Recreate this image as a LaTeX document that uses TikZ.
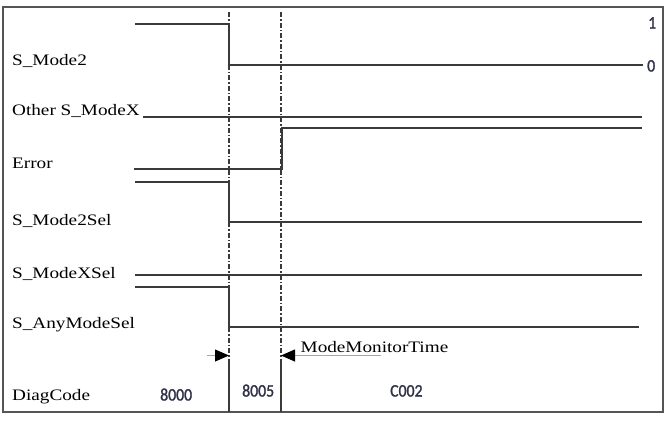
\documentclass[tikz,border=0pt]{standalone}
\usepackage{fontspec}
\setmainfont[FakeStretch=1.2]{Liberation Serif}
\newfontfamily\digitfont[FakeBold=1.5,FakeStretch=0.9]{Carlito}
\usetikzlibrary{arrows.meta}
\definecolor{sig}{HTML}{3A3A3A}
\definecolor{framec}{HTML}{555555}
\definecolor{numc}{HTML}{2E3148}
\begin{document}
\begin{tikzpicture}[x=1bp,y=-1bp,
  signal/.style={draw=sig, line width=1.5bp},
  guide/.style={draw=sig, line width=1.2bp, dash pattern=on 5bp off 2bp on 1.5bp off 2bp},
  solidguide/.style={draw=sig, line width=1.5bp},
  framebox/.style={draw=framec, line width=1.5bp},
  lbl/.style={anchor=base west, inner sep=0, font=\fontsize{16bp}{19bp}\selectfont, text=black},
  num/.style={anchor=base west, inner sep=0, font=\digitfont\fontsize{17.5bp}{20bp}\selectfont, text=numc},
  timearrow/.style={draw=gray!70, line width=0.8bp, -{Triangle[length=14bp,width=12bp,fill=black,color=black]}}]
\useasboundingbox (0,0) rectangle (669,421);
\draw[framebox] (3,7) rectangle (663,412);

% guide lines
\draw[guide] (229,12) -- (229,363);
\draw[guide] (281,12) -- (281,363);
\draw[solidguide] (229,363) -- (229,412);
\draw[solidguide] (281,363) -- (281,412);

% labels
\node[lbl] (lmode2) at (12,65.5) {S\_Mode2};
\node[lbl] (lother) at (12,115) {Other S\_ModeX};
\node[lbl] (lerror) at (12,168) {Error};
\node[lbl] (lmode2sel) at (12,225) {S\_Mode2Sel};
\node[lbl] (lmodexsel) at (12,278) {S\_ModeXSel};
\node[lbl] (lany) at (12,328) {S\_AnyModeSel};
\node[lbl] (ldiag) at (12,400.5) {DiagCode};

% signals
\draw[signal] (135,24) -- (229,24) -- (229,65) -- (643,65);
\draw[signal] (143,117) -- (642,117);
\draw[signal] (134,169) -- (282,169) -- (282,128) -- (642,128);
\draw[signal, line width=2.2bp] (282,169) -- (282,128);
\draw[signal] (135,182) -- (229,182) -- (229,222) -- (642,222);
\draw[signal] (135,275) -- (642,275);
\draw[signal] (135,287) -- (229,287) -- (229,327) -- (639,327);

% level marks
\node[num] (one) at (648,28.5) {1};
\node[num] (zero) at (647,71.5) {0};

% monitor time arrows
\coordinate (la) at (207,355.5);
\coordinate (lb) at (229,355.5);
\coordinate (ra) at (381,355.5);
\coordinate (rb) at (281,355.5);
\draw[timearrow] (la) -- (lb);
\draw[timearrow] (ra) -- (rb);
\node[lbl] (mmt) at (300.5,352) {ModeMonitorTime};

% diag codes
\node[num] (c8000) at (160,400.5) {8000};
\node[num] (c8005) at (242,396.5) {8005};
\node[num] (cc002) at (390,396.5) {C002};
\end{tikzpicture}
\end{document}
